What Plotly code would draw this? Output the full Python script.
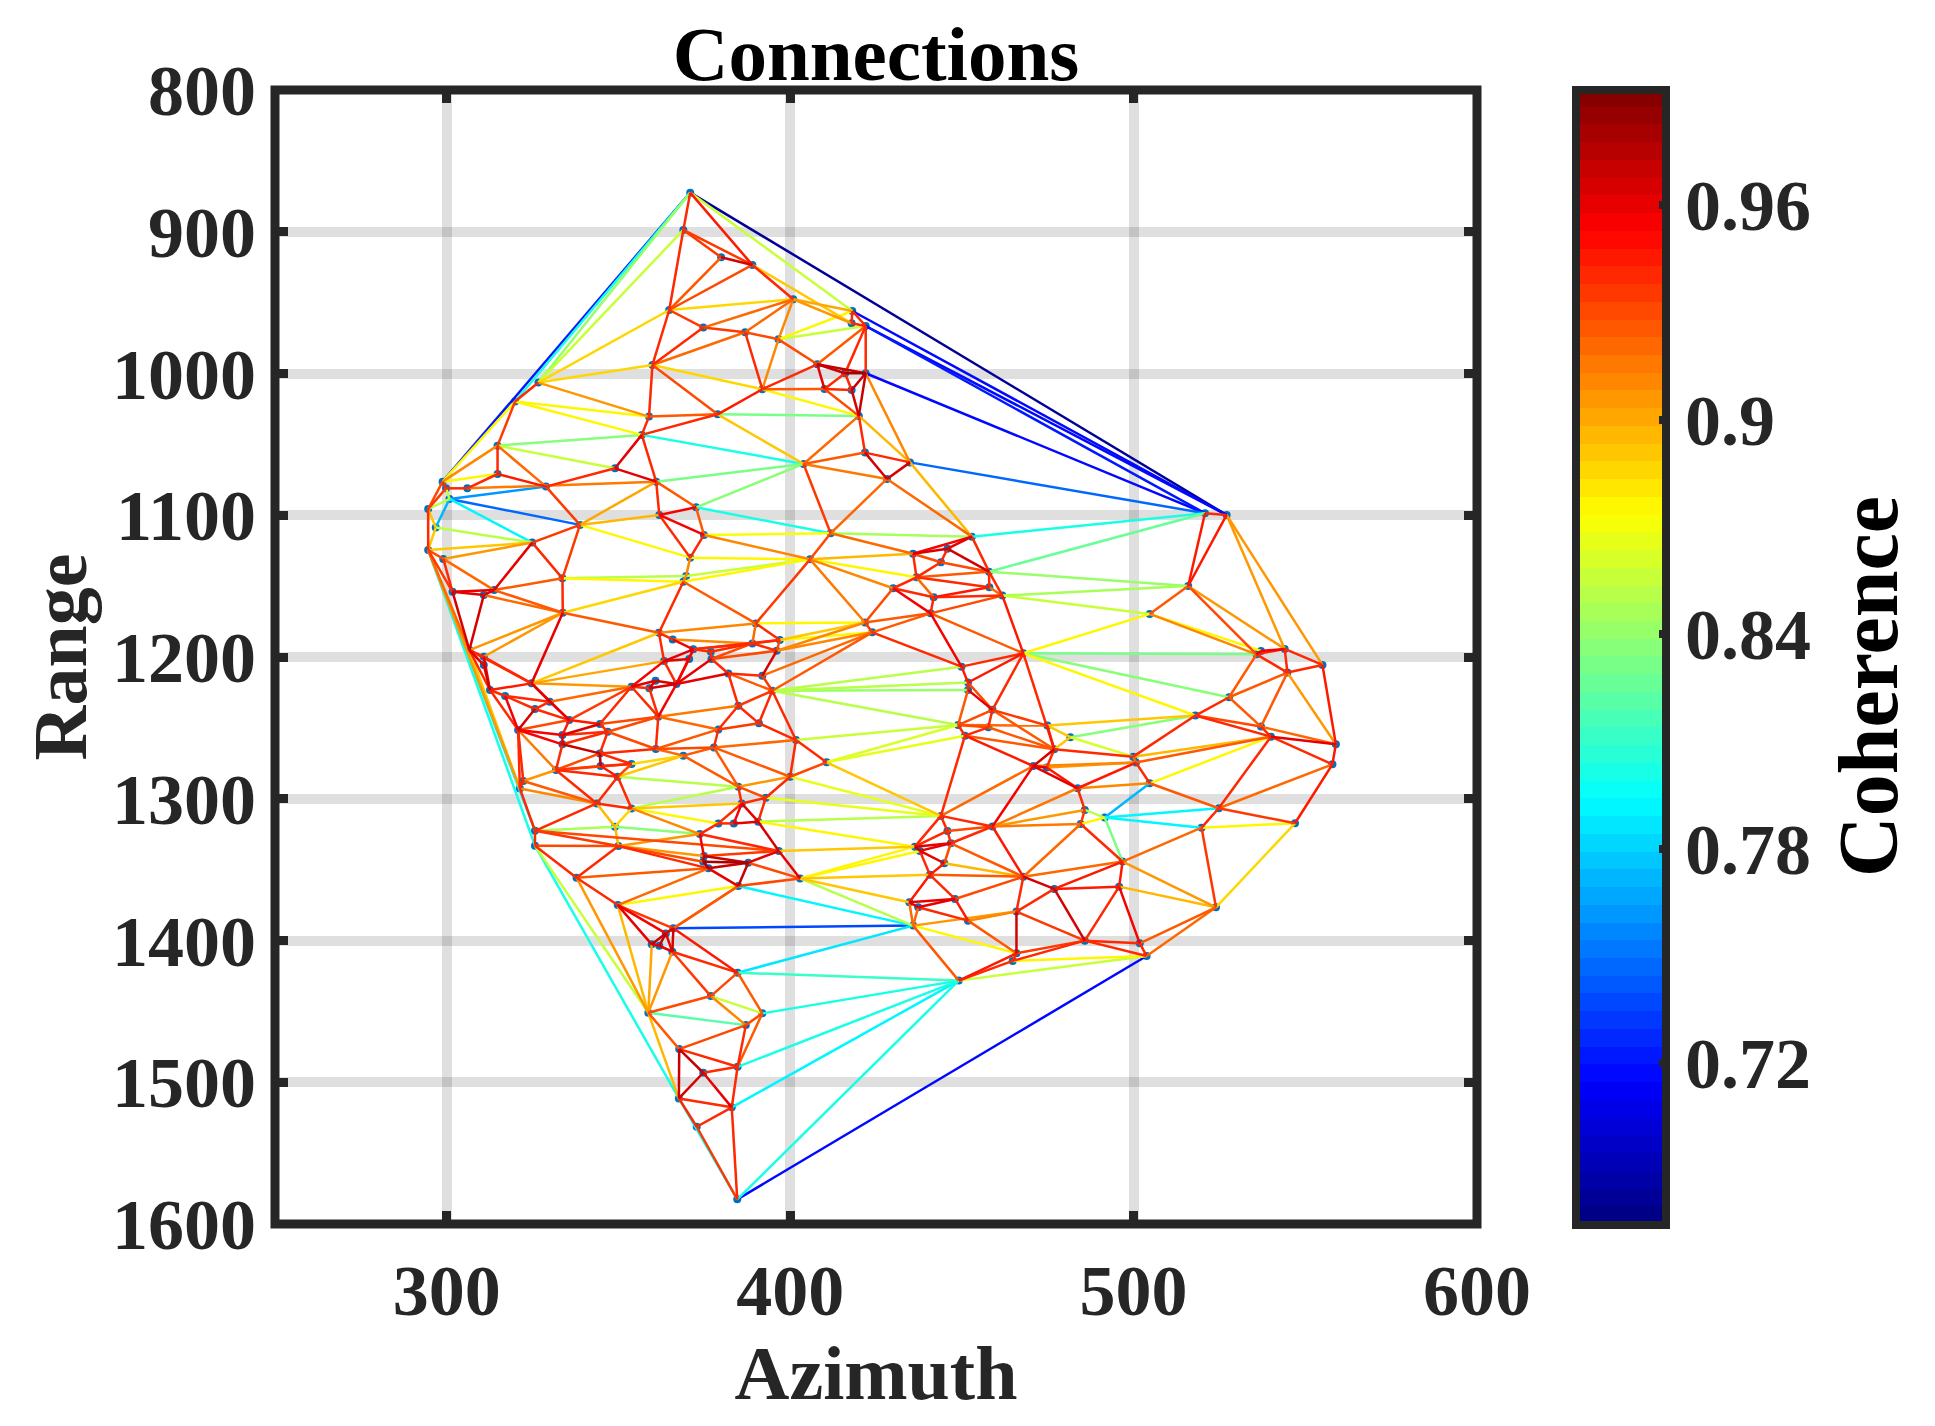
import numpy as np
import plotly.graph_objects as go

# node positions (azimuth, range), index = position in list
nodes = [
    (370.9,872.4),(368.9,898.7),(379.9,918.0),(389.0,923.4),(400.9,947.6),(364.8,955.2),(374.7,967.6),(386.9,970.9),(396.6,975.9),(418.1,955.9),
    (417.9,964.6),(422.0,966.5),(359.9,994.0),(407.9,993.5),(416.0,999.8),(422.0,999.8),(410.0,1010.9),(417.9,1011.6),(391.9,1011.1),(326.7,1006.4),
    (319.9,1019.8),(358.9,1030.4),(378.9,1028.8),(420.0,1029.9),(356.8,1043.3),(314.8,1050.9),(421.8,1055.8),(403.9,1063.8),(349.0,1066.9),(428.2,1074.4),
    (314.8,1070.9),(361.0,1076.3),(328.9,1079.8),(298.8,1076.3),(299.8,1081.0),(306.0,1081.0),(300.8,1088.5),(372.6,1094.4),(294.6,1095.6),(361.9,1099.8),
    (338.8,1106.8),(411.8,1112.7),(374.9,1113.9),(296.8,1108.7),(324.9,1119.3),(294.6,1124.5),(299.0,1130.8),(370.9,1129.9),(405.8,1131.1),(434.9,1062.7),
    (452.9,1115.1),(435.8,1127.2),(445.8,1123.6),(443.9,1133.2),(457.9,1139.8),(436.8,1143.8),(458.0,1150.8),(430.0,1151.5),(441.8,1157.9),(461.8,1156.7),
    (440.9,1169.2),(421.8,1175.7),(423.9,1182.6),(467.9,1197.4),(449.9,1206.8),(451.8,1218.0),(451.8,1223.2),(458.9,1237.3),(457.7,1249.6),(448.9,1248.0),
    (450.9,1255.5),(474.9,1248.4),(481.6,1256.6),(476.9,1265.1),(470.8,1276.9),(474.7,1278.0),(483.7,1292.6),(485.8,1307.9),(484.6,1317.8),(491.6,1313.3),
    (504.7,1289.1),(499.9,1270.3),(500.7,1274.5),(518.0,1241.3),(527.8,1228.4),(535.8,1198.1),(537.1,1195.7),(544.0,1194.3),(544.8,1211.0),(555.0,1205.6),
    (537.1,1249.1),(540.0,1256.2),(558.9,1261.6),(557.9,1275.7),(524.8,1306.7),(547.0,1317.3),(519.8,1320.4),(496.8,1344.3),(524.0,1376.6),(495.8,1362.0),
    (476.9,1363.6),(467.9,1355.0),(465.9,1379.6),(485.8,1400.1),(501.8,1402.0),(503.8,1410.9),(465.9,1409.0),(464.8,1414.4),(449.1,1428.3),(435.8,1389.5),
    (451.8,1386.0),(448.0,1370.7),(437.3,1376.6),(434.7,1373.0),(440.7,1353.7),(444.9,1345.5),(436.3,1333.8),(437.8,1336.8),(446.8,1331.4),(445.8,1322.7),
    (443.9,1312.1),(458.9,1319.6),(301.7,1154.0),(310.8,1156.3),(313.8,1152.8),(333.7,1144.5),(333.8,1168.8),(369.7,1142.9),(368.9,1146.9),(390.0,1176.3),
    (361.8,1182.9),(365.8,1187.6),(389.0,1190.4),(397.0,1188.0),(396.1,1195.6),(371.8,1194.6),(376.9,1196.3),(370.6,1201.4),(377.1,1201.4),(363.3,1202.9),
    (306.6,1195.1),(310.8,1199.8),(310.8,1205.7),(382.0,1211.6),(391.9,1213.2),(394.8,1223.8),(324.7,1218.6),(353.8,1221.0),(360.8,1216.7),(359.0,1222.1),
    (366.9,1219.1),(312.6,1223.3),(317.0,1227.5),(330.0,1231.5),(325.7,1236.7),(384.9,1234.4),(335.7,1244.5),(361.6,1242.1),(390.9,1246.8),(320.8,1251.5),
    (344.6,1247.3),(346.9,1252.7),(379.1,1251.1),(333.7,1255.0),(333.7,1261.6),(401.7,1258.6),(360.9,1264.9),(377.8,1263.8),(344.6,1268.0),(368.9,1269.6),
    (344.8,1276.9),(353.8,1275.5),(410.6,1274.3),(331.8,1279.7),(400.0,1284.5),(349.8,1284.5),(322.3,1287.5),(321.3,1292.7),(384.9,1291.5),(392.9,1299.3),
    (385.9,1303.3),(343.7,1303.3),(353.8,1306.8),(379.1,1317.4),(383.6,1317.4),(390.7,1316.2),(349.0,1319.7),(325.7,1322.6),(373.7,1324.9),(325.7,1333.1),
    (350.0,1333.4),(396.7,1336.9),(374.9,1340.4),(374.7,1344.4),(387.8,1345.1),(376.2,1349.1),(402.9,1356.2),(337.8,1355.7),(384.9,1361.6),(349.8,1375.0),
    (366.0,1391.4),(363.8,1395.0),(359.7,1402.7),(361.9,1403.7),(365.7,1407.9),(384.7,1422.7),(376.9,1439.2),(391.9,1451.4),(358.7,1451.0),(387.1,1459.7),
    (367.7,1476.6),(384.7,1489.1),(374.7,1493.3),(367.6,1511.4),(383.0,1517.7),(372.8,1531.4),(384.6,1582.6),(520.8,1098.6),(527.1,1099.8),(515.9,1149.9),
    (504.7,1169.6),
]

# connections: (node a, node b, coherence)
edges_north = [
    (0,1,.94),(0,3,.945),(1,5,.94),(1,2,.935),(1,3,.935),(2,3,.965),(2,5,.925),(3,5,.93),(3,4,.94),(3,10,.89),(0,9,.855),
    (4,9,.9),(4,10,.905),(4,5,.885),(4,6,.92),(4,7,.92),(4,8,.91),(5,6,.935),(5,12,.94),(5,19,.885),(1,19,.855),(0,19,.84),(0,20,.80),(0,33,.72),
    (19,20,.94),(20,33,.875),(6,12,.94),(6,7,.935),(7,12,.92),(7,8,.93),(7,18,.94),(8,18,.91),(8,9,.875),(8,11,.855),(8,13,.93),(9,10,.94),(9,11,.94),(10,11,.94),
    (11,13,.925),(11,14,.94),(11,15,.94),(13,14,.97),(13,15,.97),(13,16,.96),(13,18,.94),(14,15,.98),(14,16,.94),(14,17,.94),(15,17,.97),(16,17,.94),(15,23,.97),
    (17,23,.965),(16,18,.925),(16,23,.93),(18,22,.945),(12,18,.885),(18,23,.875),(12,19,.885),(12,21,.94),(12,22,.93),(19,21,.905),(20,21,.875),(20,24,.875),
    (21,22,.925),(21,24,.94),(22,24,.94),(22,23,.83),(22,27,.89),(23,27,.92),(23,26,.94),(15,49,.91),(23,49,.895),(26,49,.94),(26,29,.965),(29,49,.965),
    (26,27,.925),(27,29,.915),(27,41,.935),(29,41,.92),(24,27,.80),(24,25,.835),(24,28,.96),(24,31,.94),(25,28,.855),(25,30,.94),(20,25,.935),(25,33,.91),(25,32,.92),
    (30,33,.875),(30,35,.94),(30,32,.945),(28,32,.94),(28,31,.96),(27,31,.83),(27,37,.835),(31,37,.925),(31,39,.94),(31,35,.915),(31,40,.90),(34,35,.94),
    (33,34,.94),(33,38,.93),(34,38,.935),(34,36,.855),(36,38,.85),(32,36,.76),(36,40,.745),(36,44,.79),(36,43,.77),(38,43,.89),(43,45,.89),(38,45,.94),(43,44,.85),
    (44,45,.89),(44,46,.905),(45,46,.93),(37,39,.955),(37,42,.925),(37,41,.80),(39,42,.955),(39,47,.94),(42,47,.94),(39,40,.895),(40,44,.935),(32,40,.935),(40,47,.875),
    (41,42,.87),(42,48,.91),(41,48,.93),(47,48,.875),(44,124,.96),(44,125,.94),(40,125,.935),(46,122,.94),(46,124,.92),(45,122,.935),
]
edges_east = [
    (127,48,.855),(128,48,.875),(47,127,.91),(48,129,.935),(48,61,.915),(48,57,.91),(48,55,.875),(48,51,.895),(41,50,.845),(41,51,.92),
    (49,50,.895),(29,50,.92),(50,51,.955),(50,52,.96),(50,54,.94),(51,52,.965),(52,53,.94),(51,53,.93),(51,55,.94),(53,55,.94),(52,54,.965),(53,54,.93),(54,55,.925),
    (55,56,.94),(54,56,.94),(55,57,.94),(55,58,.92),(57,58,.94),(56,58,.945),(58,59,.94),(56,59,.92),(54,59,.94),(58,60,.94),(57,60,.955),(57,61,.93),(60,61,.925),
    (60,62,.925),(61,62,.935),(59,60,.93),(60,63,.925),(59,63,.945),(62,64,.94),(60,64,.955),
    (50,217,.80),(54,217,.825),(217,218,.94),(0,218,.68),(9,218,.715),(11,218,.715),(11,217,.72),(15,217,.715),(49,217,.745),(217,219,.945),(218,219,.945),
    (54,219,.84),(59,219,.845),(59,220,.855),(219,220,.925),(63,220,.875),(85,219,.93),(87,219,.905),(87,218,.905),(89,218,.905),(85,220,.91),(86,220,.875),
    (85,86,.96),(85,87,.94),(86,87,.955),(85,88,.94),(87,88,.94),(87,89,.94),(88,89,.94),(84,85,.925),(84,88,.925),(88,90,.925),(84,90,.925),(83,84,.94),(88,92,.905),
    (89,92,.945),(63,85,.83),(63,84,.835),(63,83,.875),(83,90,.93),(83,91,.94),(90,91,.94),(90,92,.92),(91,92,.96),(91,93,.94),(92,93,.945),(71,83,.89),(72,83,.835),
    (81,91,.895),(82,91,.925),(80,91,.875),(81,83,.94),(72,81,.86),(71,72,.89),(72,73,.89),(71,73,.945),(63,73,.94),(63,67,.94),(63,65,.945),(63,64,.94),(64,65,.945),
    (65,66,.94),(65,67,.93),(66,67,.96),(66,69,.925),(67,69,.93),(67,68,.94),(68,69,.93),(67,71,.935),(69,71,.92),(67,73,.925),(68,73,.925),(68,70,.94),(69,70,.94),
    (70,73,.925),(70,74,.945),(73,74,.965),(73,75,.94),(74,75,.96),(73,81,.94),(75,82,.905),(74,82,.91),(76,82,.945),(81,82,.92),(80,82,.94),(76,80,.91),(79,80,.77),
    (75,76,.945),(74,76,.96),(76,77,.94),(77,78,.935),(76,121,.915),(77,121,.905),(78,121,.915),(77,79,.85),(78,79,.875),(79,96,.79),(79,94,.79),(79,97,.83),
    (74,120,.92),(74,121,.955),(70,120,.94),(80,94,.925),(93,94,.92),(91,94,.94),(94,95,.935),(94,96,.94),(93,95,.945),(95,96,.875),(95,98,.885),(96,98,.935),(96,97,.92),
    (97,98,.905),(97,99,.945),(98,99,.895),(97,100,.945),(97,101,.92),(78,97,.94),(78,101,.92),(101,121,.945),(99,100,.945),(100,101,.965),(100,102,.94),(100,103,.965),
    (99,103,.94),(99,104,.955),(103,104,.94),(103,105,.94),(104,105,.94),(98,104,.925),(98,105,.92),(102,103,.935),(102,106,.965),(101,102,.94),(102,110,.91),(102,109,.905),
    (103,106,.935),(103,107,.94),(106,107,.94),(106,108,.945),(107,108,.94),(105,107,.875),(105,108,.855),(106,109,.875),(106,110,.925),(108,109,.925),(109,113,.92),(109,112,.92),
    (112,113,.96),(111,113,.96),(111,112,.96),(101,111,.93),(110,111,.945),(110,112,.94),(111,114,.94),(113,114,.945),(114,115,.945),(101,114,.925),(101,115,.895),
    (115,117,.96),(114,117,.94),(116,117,.97),(116,118,.96),(117,118,.96),(116,119,.94),(116,120,.94),(119,120,.94),(118,119,.94),(120,121,.94),(119,121,.93),(118,121,.94),
    (115,118,.93),(101,118,.925),
]
edges_centre = [
    (122,123,.96),(122,124,.96),(123,124,.96),(124,125,.925),(124,126,.925),(123,126,.92),(122,140,.965),(123,140,.965),(125,126,.94),(125,127,.85),(125,128,.875),(127,128,.91),
    (126,128,.885),(126,130,.925),(128,130,.94),(128,129,.925),(129,61,.875),(133,61,.89),(134,61,.91),(133,62,.875),(134,62,.91),(144,62,.92),(145,62,.925),
    (145,64,.85),(145,65,.85),(145,66,.84),(145,69,.85),(165,69,.855),(172,69,.86),(172,70,.865),(172,120,.89),(174,120,.865),(179,120,.865),(185,120,.85),(185,116,.875),(191,116,.89),
    (196,116,.875),(196,117,.875),(196,114,.89),(196,113,.89),(196,109,.85),(129,132,.92),(129,133,.94),(129,130,.91),(130,131,.94),(130,139,.94),(131,135,.955),(131,132,.91),
    (132,135,.93),(132,136,.94),(132,133,.94),(132,134,.94),(133,134,.93),(133,135,.94),(135,136,.94),(136,138,.94),(135,137,.93),(137,139,.96),(135,139,.96),(139,150,.94),(137,150,.94),
    (135,150,.955),(138,150,.96),(138,143,.94),(132,138,.93),(134,138,.93),(134,144,.965),(143,144,.94),(143,145,.925),(144,145,.935),(143,155,.94),(143,150,.96),(145,155,.935),
    (145,158,.94),(155,158,.94),(155,162,.94),(158,162,.935),(158,165,.94),(155,157,.915),(139,146,.90),(130,146,.89),(139,147,.955),(147,148,.96),(148,150,.965),(149,150,.965),
    (147,149,.94),(148,149,.96),(150,157,.955),(149,157,.94),(147,157,.94),(146,147,.905),(126,146,.96),(146,151,.945),(141,146,.94),(140,146,.94),(146,153,.96),(146,156,.96),
    (147,153,.92),(147,156,.935),(147,160,.94),(153,156,.955),(154,156,.94),(153,154,.94),(152,154,.94),(152,153,.94),(151,152,.94),(151,159,.94),(152,159,.955),(154,159,.965),
    (141,151,.96),(140,151,.94),(140,141,.94),(142,151,.965),(126,140,.905),(126,141,.905),(140,142,.96),(156,159,.93),(159,163,.955),(159,164,.955),(156,163,.945),(156,160,.945),
    (160,163,.965),(161,163,.94),(160,161,.94),(163,164,.96),(164,168,.97),(161,164,.94),(161,168,.94),(157,160,.93),(157,161,.93),(157,162,.92),(157,166,.94),(161,166,.93),
    (162,166,.925),(166,167,.93),(162,167,.94),(167,169,.925),(165,167,.92),(166,168,.94),(168,171,.94),(168,170,.97),(170,171,.94),(170,175,.945),(171,175,.93),(168,173,.93),
    (170,173,.935),(171,173,.93),(173,175,.94),(164,173,.94),(159,173,.915),(169,175,.89),(169,171,.885),(166,169,.92),(169,178,.925),(167,178,.925),(167,174,.925),(174,178,.905),
    (165,174,.94),(165,172,.94),(172,174,.93),(174,179,.94),(145,165,.94),(178,179,.93),(178,180,.94),(179,180,.94),(179,185,.94),(180,183,.94),(180,184,.955),(180,185,.96),
    (183,184,.94),(184,185,.96),(183,188,.94),(185,191,.965),(188,191,.94),(188,192,.955),(188,190,.905),(190,192,.905),(190,193,.93),(190,195,.94),(191,192,.935),(192,193,.97),
    (192,194,.97),(193,194,.98),(193,195,.98),(194,195,.97),(191,194,.96),(194,198,.97),(195,198,.96),(191,196,.96),(194,196,.93),(196,198,.93),(189,190,.93),(187,190,.935),
    (187,191,.93),(187,189,.94),(186,187,.845),(186,188,.835),(189,197,.94),(190,197,.94),(195,197,.925),(197,199,.94),(195,199,.92),(198,199,.875),(199,200,.935),(199,202,.96),
    (199,201,.955),(198,200,.925),(198,201,.925),(182,186,.885),(181,186,.895),(186,190,.895),(181,187,.94),(181,182,.94),(175,181,.94),(175,182,.94),(175,178,.85),(178,182,.85),
    (180,182,.89),(182,188,.91),(182,183,.875),(176,181,.925),(177,181,.91),(173,181,.94),(173,176,.905),(176,177,.94),(159,176,.94),(159,177,.94),(177,187,.94),(140,177,.89),(45,140,.92),
]
edges_south = [
    (45,177,.905),(45,187,.79),(45,189,.80),(189,208,.855),(189,213,.80),(197,208,.905),(199,208,.895),(202,208,.90),(204,208,.905),(208,213,.895),(208,210,.925),(206,208,.93),
    (208,209,.82),(213,216,.795),(198,109,.79),(200,109,.735),(205,109,.785),(205,108,.81),(207,108,.80),(211,108,.80),(214,108,.79),(216,108,.80),(216,105,.715),
    (200,205,.945),(200,201,.96),(200,204,.965),(201,204,.96),(201,202,.97),(201,203,.97),(202,203,.96),(203,204,.96),(204,205,.94),(204,206,.935),(205,206,.93),(205,207,.925),
    (206,207,.855),(206,209,.91),(207,209,.93),(209,210,.93),(209,211,.94),(207,211,.925),(210,211,.94),(210,212,.97),(210,213,.97),(212,213,.965),(211,212,.94),(212,214,.96),
    (211,214,.94),(213,214,.94),(213,215,.94),(214,215,.94),(214,216,.94),(215,216,.935),
]

x_ticks = [300, 400, 500, 600]
y_ticks = [800, 900, 1000, 1100, 1200, 1300, 1400, 1500, 1600]
cbar_ticks = [0.72, 0.78, 0.84, 0.9, 0.96]
cbar_labels = ['0.72', '0.78', '0.84', '0.9', '0.96']
c_min, c_max = 0.6749, 0.9923


def jet64():
    # matlab jet(64) as rgb rows
    n = 64
    t = (np.arange(n) + 0.5) / n
    r = np.clip(1.5 - np.abs(4 * t - 3), 0, 1)
    g = np.clip(1.5 - np.abs(4 * t - 2), 0, 1)
    b = np.clip(1.5 - np.abs(4 * t - 1), 0, 1)
    return ['rgb(%d,%d,%d)' % (round(255 * a), round(255 * e), round(255 * c)) for a, e, c in zip(r, g, b)]


cols = jet64()
scale = []
for i, c in enumerate(cols):
    scale.append([i / 64, c])
    scale.append([(i + 1) / 64, c])

FONT = 'Liberation Serif'
DARK = '#262626'

fig = go.Figure()

node_az = [p[0] for p in nodes]
node_rng = [p[1] for p in nodes]
fig.add_trace(go.Scatter(x=node_az, y=node_rng, mode='markers', showlegend=False,
                         marker=dict(color='#0072BD', size=8)))

# one trace per colour band of the map, nan breaks between segments
bands = {}
for a, b, c in edges_north + edges_east + edges_centre + edges_south:
    k = min(63, max(0, int((c - c_min) / (c_max - c_min) * 64)))
    bands.setdefault(k, []).append((a, b))

for k in sorted(bands):
    xs, ys = [], []
    for a, b in bands[k]:
        xs += [node_az[a], node_az[b], None]
        ys += [node_rng[a], node_rng[b], None]
    fig.add_trace(go.Scatter(x=xs, y=ys, mode='lines', showlegend=False,
                             line=dict(color=cols[k], width=2.5)))

# colorbar holder
fig.add_trace(go.Scatter(x=[None], y=[None], mode='markers', showlegend=False,
                         marker=dict(color=[c_min], cmin=c_min, cmax=c_max, colorscale=scale, showscale=True,
                                     colorbar=dict(x=(1575.5 - 275) / 1202, xanchor='left', xpad=0, ypad=0,
                                                   y=0.5, yanchor='middle', len=1134.5, lenmode='pixels',
                                                   thickness=90, outlinewidth=8, outlinecolor=DARK, borderwidth=0,
                                                   ticks='inside', ticklen=11, tickwidth=8, tickcolor=DARK,
                                                   tickvals=cbar_ticks, ticktext=cbar_labels, ticklabelposition='outside',
                                                   tickfont=dict(family=FONT, size=72, color=DARK, weight=700)))))

axis_style = dict(showgrid=True, gridcolor='rgba(38,38,38,0.15)', gridwidth=10, zeroline=False, showline=False,
                  ticks='inside', ticklen=13, tickwidth=9, tickcolor=DARK, mirror='ticks',
                  tickfont=dict(family=FONT, size=72, color=DARK, weight=700))

fig.update_xaxes(range=[250, 600], tickvals=x_ticks, ticklabelstandoff=18, automargin=False,
                 title=dict(text='Azimuth', standoff=2, font=dict(family=FONT, size=76, color=DARK, weight=700)),
                 **axis_style)
fig.update_yaxes(range=[1600, 800], tickvals=y_ticks, ticklabelstandoff=18, automargin=False,
                 title=dict(text='Range', standoff=0, font=dict(family=FONT, size=76, color=DARK, weight=700)),
                 **axis_style)

fig.add_shape(type='rect', xref='paper', yref='paper', x0=0, x1=1, y0=0, y1=1, layer='above',
              line=dict(color=DARK, width=9))

fig.add_annotation(text='Coherence', xref='paper', yref='paper', x=(1868 - 275) / 1202, y=1 - (687 - 90) / 1134,
                   xanchor='center', yanchor='middle', textangle=-90, showarrow=False,
                   font=dict(family=FONT, size=84, color='black', weight=700))

fig.update_layout(width=1935, height=1426, paper_bgcolor='white', plot_bgcolor='white',
                  margin=dict(l=275, r=458, t=90, b=202, autoexpand=False),
                  title=dict(text='Connections', x=876 / 1935, xanchor='center', y=1 - 53 / 1426, yanchor='middle',
                             font=dict(family=FONT, size=77, color='black', weight=700)))

fig.write_html("out.html", config=dict(displayModeBar=False), post_script="document.body.style.margin='0';")
